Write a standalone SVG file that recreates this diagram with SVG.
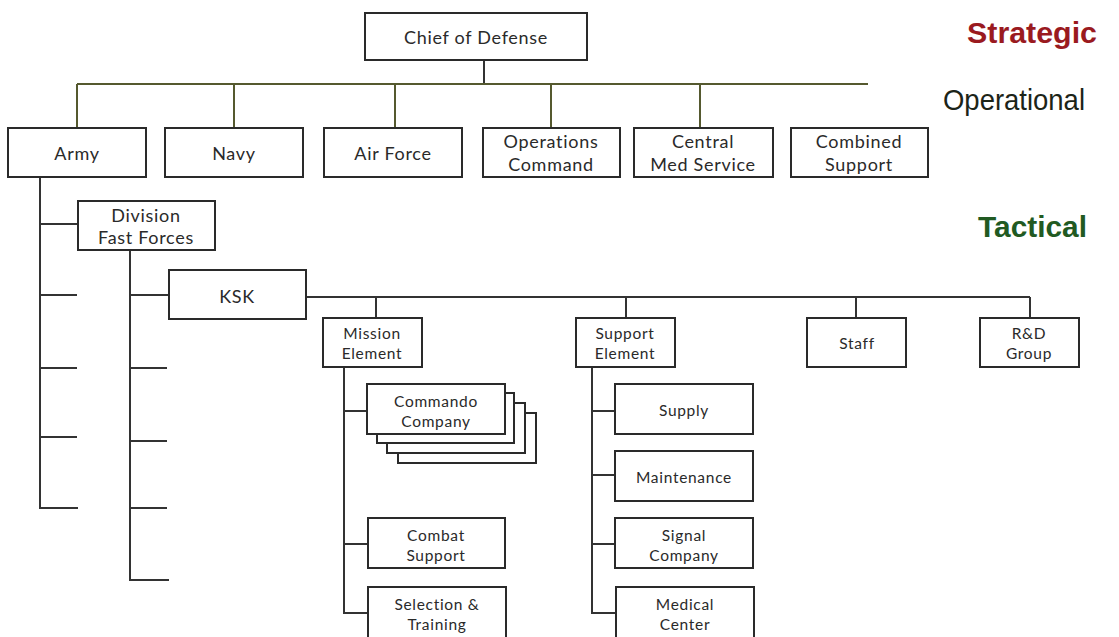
<svg xmlns="http://www.w3.org/2000/svg" width="1119" height="637" viewBox="0 0 1119 637">
<style>
.box{fill:#fff;stroke:#2a2a2a;stroke-width:2}
.t{font-family:Lato,"Open Sans","Liberation Sans",sans-serif;fill:#2a2a2a;text-anchor:middle}
.l{font-size:18px;letter-spacing:0.7px}
.s{font-size:15.5px;letter-spacing:0.7px}
.c{fill:none;stroke:#333;stroke-width:2}
.g{fill:none;stroke:#55592f;stroke-width:2}
.lvl{font-family:"Liberation Sans",Arial,sans-serif;font-size:29px}
</style>
<rect width="1119" height="637" fill="#fff"/>
<g id="connectors">
<path class="c" d="M484 60V84"/>
<path class="g" d="M77 84H868"/>
<path class="g" d="M77 84V128M234 84V128M395 84V128M551 84V128M700 84V128"/>
<path class="c" d="M40 177V508H78M40 224H78M40 295H77M40 368H77M40 437H77"/>
<path class="c" d="M130 250V580H169M130 295H170M130 368H167M130 441H167M130 508H167"/>
<path class="c" d="M306 297H1030M376 297V318M626 297V318M856 297V318M1030 297V318"/>
<path class="c" d="M344 367V613H368M344 411H367M344 544H368"/>
<path class="c" d="M592 367V613H616M592 411H615M592 475H615M592 544H615"/>
</g>
<g id="chief"><rect class="box" x="365" y="13" width="222" height="47"/><text class="t l" x="476" y="44">Chief of Defense</text></g>
<g id="army"><rect class="box" x="8" y="128" width="138" height="49"/><text class="t l" x="77" y="160">Army</text></g>
<g id="navy"><rect class="box" x="165" y="128" width="138" height="49"/><text class="t l" x="234" y="160">Navy</text></g>
<g id="airforce"><rect class="box" x="324" y="128" width="138" height="49"/><text class="t l" x="393" y="160">Air Force</text></g>
<g id="opscmd"><rect class="box" x="483" y="128" width="137" height="49"/><text class="t l" x="551" y="148">Operations</text><text class="t l" x="551" y="171">Command</text></g>
<g id="centralmed"><rect class="box" x="634" y="128" width="139" height="49"/><text class="t l" x="703" y="148">Central</text><text class="t l" x="703" y="171">Med Service</text></g>
<g id="combined"><rect class="box" x="791" y="128" width="137" height="49"/><text class="t l" x="859" y="148">Combined</text><text class="t l" x="859" y="171">Support</text></g>
<g id="division"><rect class="box" x="78" y="201" width="137" height="49"/><text class="t l" x="146" y="222">Division</text><text class="t l" x="146" y="244">Fast Forces</text></g>
<g id="ksk"><rect class="box" x="169" y="270" width="137" height="49"/><text class="t l" x="237" y="303">KSK</text></g>
<g id="mission"><rect class="box" x="323" y="318" width="99" height="49"/><text class="t s" x="372" y="339">Mission</text><text class="t s" x="372" y="359">Element</text></g>
<g id="support"><rect class="box" x="576" y="318" width="99" height="49"/><text class="t s" x="625" y="339">Support</text><text class="t s" x="625" y="359">Element</text></g>
<g id="staff"><rect class="box" x="807" y="318" width="99" height="49"/><text class="t s" x="857" y="349">Staff</text></g>
<g id="rnd"><rect class="box" x="980" y="318" width="99" height="49"/><text class="t s" x="1029" y="339">R&amp;D</text><text class="t s" x="1029" y="359">Group</text></g>
<g id="commando">
<rect class="box" x="398" y="413" width="138" height="50"/>
<rect class="box" x="387" y="403" width="138" height="50"/>
<rect class="box" x="377" y="393" width="137" height="50"/>
<rect class="box" x="367" y="384" width="138" height="50"/>
<text class="t s" x="436" y="407">Commando</text><text class="t s" x="436" y="427">Company</text></g>
<g id="combat"><rect class="box" x="368" y="518" width="137" height="50"/><text class="t s" x="436" y="541">Combat</text><text class="t s" x="436" y="561">Support</text></g>
<g id="selection"><rect class="box" x="368" y="587" width="138" height="55"/><text class="t s" x="437" y="610">Selection &amp;</text><text class="t s" x="437" y="630">Training</text></g>
<g id="supply"><rect class="box" x="615" y="384" width="138" height="50"/><text class="t s" x="684" y="416">Supply</text></g>
<g id="maint"><rect class="box" x="615" y="451" width="138" height="50"/><text class="t s" x="684" y="483">Maintenance</text></g>
<g id="signal"><rect class="box" x="615" y="518" width="138" height="50"/><text class="t s" x="684" y="541">Signal</text><text class="t s" x="684" y="561">Company</text></g>
<g id="medical"><rect class="box" x="616" y="587" width="138" height="55"/><text class="t s" x="685" y="610">Medical</text><text class="t s" x="685" y="630">Center</text></g>
<g id="levels">
<text class="lvl" x="967" y="43" fill="#9a1a1f" font-weight="bold" textLength="130" lengthAdjust="spacingAndGlyphs">Strategic</text>
<text class="lvl" x="943" y="110" fill="#1c2418" textLength="142" lengthAdjust="spacingAndGlyphs">Operational</text>
<text class="lvl" x="978" y="237" fill="#215a22" font-weight="bold" textLength="109" lengthAdjust="spacingAndGlyphs">Tactical</text>
</g>
</svg>
